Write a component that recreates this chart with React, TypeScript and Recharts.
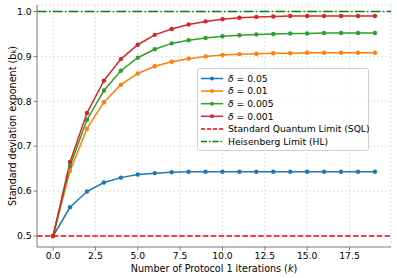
import React from 'react';
import {
  LineChart,
  Line,
  XAxis,
  YAxis,
  CartesianGrid,
  ReferenceLine,
} from 'recharts';

const iterations = [0, 1, 2, 3, 4, 5, 6, 7, 8, 9, 10, 11, 12, 13, 14, 15, 16, 17, 18, 19];
const delta005 = [0.5, 0.564, 0.599, 0.619, 0.63, 0.637, 0.64, 0.642, 0.643, 0.643, 0.643, 0.643, 0.643, 0.643, 0.643, 0.643, 0.643, 0.643, 0.643, 0.643];
const delta001 = [0.5, 0.645, 0.739, 0.798, 0.837, 0.862, 0.878, 0.888, 0.895, 0.9, 0.903, 0.905, 0.906, 0.907, 0.907, 0.908, 0.908, 0.908, 0.908, 0.908];
const delta0005 = [0.5, 0.656, 0.759, 0.824, 0.868, 0.897, 0.916, 0.929, 0.936, 0.941, 0.945, 0.947, 0.949, 0.95, 0.951, 0.951, 0.952, 0.952, 0.952, 0.952];
const delta0001 = [0.5, 0.665, 0.774, 0.846, 0.894, 0.926, 0.948, 0.961, 0.971, 0.978, 0.983, 0.986, 0.988, 0.989, 0.99, 0.99, 0.99, 0.99, 0.99, 0.99];
const xTicks = [0, 2.5, 5, 7.5, 10, 12.5, 15, 17.5];
const yTicks = [0.5, 0.6, 0.7, 0.8, 0.9, 1.0];
const sqlLevel = 0.5;
const hlLevel = 1.0;

const series = [
  { key: 'd1', label: '0.05', color: '#1f77b4', values: delta005 },
  { key: 'd2', label: '0.01', color: '#ff7f0e', values: delta001 },
  { key: 'd3', label: '0.005', color: '#2ca02c', values: delta0005 },
  { key: 'd4', label: '0.001', color: '#d62728', values: delta0001 },
];

const data = iterations.map((k, i) => {
  const row: Record<string, number> = { k };
  series.forEach((s) => {
    row[s.key] = s.values[i];
  });
  return row;
});

const font = '"DejaVu Sans", sans-serif';
const spine = '#808080';
const SQL_DASH = '5.5 2.4';
const HL_DASH = '9.6 2.4 1.5 2.4';

// legend drawn outside the chart so it doesn't eat into the plot area
const LegendBox = () => {
  const rows = [
    ...series.map((s) => ({ kind: 'series', color: s.color, label: s.label })),
    { kind: 'sql', color: '#ff0000', label: 'Standard Quantum Limit (SQL)' },
    { kind: 'hl', color: '#008000', label: 'Heisenberg Limit (HL)' },
  ];
  return (
    <svg width={172} height={83} style={{ position: 'absolute', left: 197, top: 68 }}>
      <rect x={0.5} y={0.5} width={171} height={82} rx={2} fill="rgba(255,255,255,0.8)" stroke="#d0d0d0" />
      {rows.map((r, i) => {
        const y = 10.5 + i * 12.6;
        return (
          <g key={i}>
            <line
              x1={4}
              x2={26}
              y1={y}
              y2={y}
              stroke={r.color}
              strokeWidth={1.5}
              strokeDasharray={r.kind === 'sql' ? '4 2' : r.kind === 'hl' ? '6 2 1.5 2' : undefined}
            />
            {r.kind === 'series' && <circle cx={15} cy={y} r={2} fill={r.color} />}
            <text x={31} y={y + 3.3} fontSize={9.2} fontFamily={font} fill="#000">
              {r.kind === 'series' ? (
                <>
                  <tspan fontStyle="italic">δ</tspan>
                  <tspan> = {r.label}</tspan>
                </>
              ) : (
                r.label
              )}
            </text>
          </g>
        );
      })}
    </svg>
  );
};

const App = () => {
  return (
    <div style={{ position: 'absolute', left: 0, top: 0, width: 397, height: 278, background: '#fff' }}>
      <LineChart width={397} height={278} data={data} margin={{ top: 5, right: 6, left: 0, bottom: 0 }}>
        <CartesianGrid stroke="#e0e0e0" strokeDasharray="2 2" />
        <XAxis
          dataKey="k"
          type="number"
          domain={[-0.95, 19.95]}
          ticks={xTicks}
          allowDataOverflow
          height={31}
          stroke={spine}
          tickSize={3.5}
          tickFormatter={(v: number) => v.toFixed(1)}
          tick={{ fontSize: 9.2, fontFamily: font, fill: '#000' }}
          label={{
            content: () => (
              <text x={214} y={272} textAnchor="middle" fontSize={9.6} fontFamily={font} fill="#000">
                Number of Protocol 1 iterations (<tspan fontStyle="italic">k</tspan>)
              </text>
            ),
          }}
        />
        <XAxis
          xAxisId="top"
          orientation="top"
          dataKey="k"
          type="number"
          domain={[-0.95, 19.95]}
          height={0}
          tick={false}
          tickLine={false}
          stroke={spine}
        />
        <YAxis
          type="number"
          domain={[0.4755, 1.0145]}
          ticks={yTicks}
          allowDataOverflow
          width={37}
          stroke={spine}
          tickSize={3.5}
          tickFormatter={(v: number) => v.toFixed(1)}
          tick={{ fontSize: 9.2, fontFamily: font, fill: '#000' }}
          label={{
            content: () => (
              <text
                x={12}
                y={126}
                transform="rotate(-90 12 126)"
                textAnchor="middle"
                dominantBaseline="central"
                fontSize={9.6}
                fontFamily={font}
                fill="#000"
              >
                Standard deviation exponent (b<tspan fontSize={7} dy={2}>k</tspan>
                <tspan dy={-2}>)</tspan>
              </text>
            ),
          }}
        />
        <YAxis
          yAxisId="right"
          orientation="right"
          type="number"
          domain={[0.4755, 1.0145]}
          width={0}
          tick={false}
          tickLine={false}
          stroke={spine}
        />
        <ReferenceLine y={sqlLevel} stroke="#ff0000" strokeWidth={1.5} strokeDasharray={SQL_DASH} />
        <ReferenceLine y={hlLevel} stroke="#008000" strokeWidth={1.5} strokeDasharray={HL_DASH} />
        {series.map((s) => (
          <Line
            key={s.key}
            dataKey={s.key}
            stroke={s.color}
            strokeWidth={1.5}
            dot={{ r: 2.2, fill: s.color, stroke: s.color, strokeWidth: 0 }}
            isAnimationActive={false}
          />
        ))}
      </LineChart>
      <LegendBox />
    </div>
  );
};

export default App;
